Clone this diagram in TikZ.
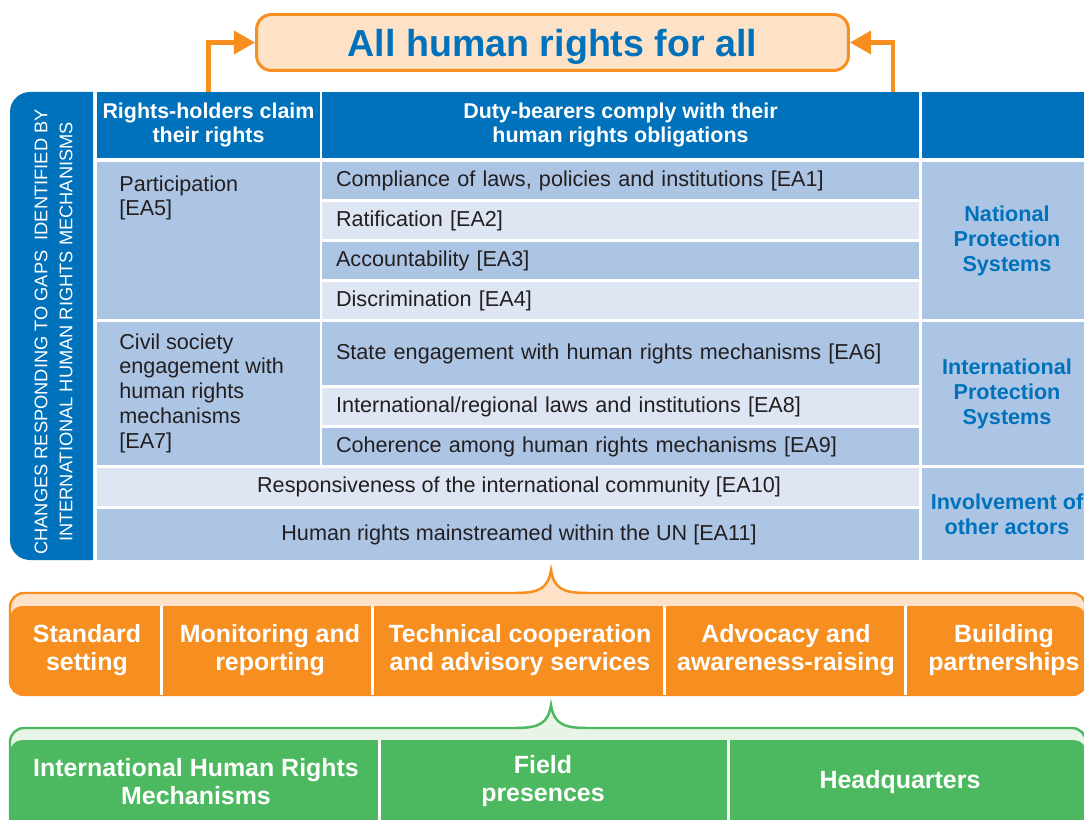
\documentclass[tikz,border=0pt]{standalone}
\usepackage{fontspec}
\setmainfont{Liberation Sans}
\usepackage{tikz}
\usetikzlibrary{arrows.meta}
\definecolor{hrblue}{RGB}{0,114,188}
\definecolor{cellmid}{RGB}{173,197,228}
\definecolor{celllight}{RGB}{222,230,243}
\definecolor{hrorange}{RGB}{246,142,32}
\definecolor{orangelight}{RGB}{253,226,200}
\definecolor{hrgreen}{RGB}{76,185,96}
\definecolor{greenlight}{RGB}{232,244,232}
\definecolor{bodytext}{RGB}{35,31,32}

\begin{document}
\begin{tikzpicture}[x=0.02cm, y=-0.02cm,
    title/.style={rectangle, rounded corners=8.5pt, draw=hrorange, line width=1.7pt, fill=orangelight, text=hrblue, font=\bfseries\fontsize{21.4}{24}\selectfont, minimum width=11.84cm, minimum height=1.12cm, inner sep=0pt, text depth=0pt},
    uparrow/.style={draw=hrorange, line width=2.3pt, -{Triangle[length=12pt, width=13pt]}},
    gapstext/.style={rotate=90, align=center, text=white, inner sep=0pt, font=\fontsize{10.4}{14.2}\selectfont},
    head/.style={rectangle, fill=hrblue, text=white, align=center, inner sep=0pt, minimum height=1.32cm, font=\bfseries\fontsize{12.2}{13.3}\selectfont},
    holder/.style={rectangle, fill=cellmid, minimum width=4.46cm, inner sep=0pt},
    holdertext/.style={anchor=north west, align=left, inner sep=0pt, text=bodytext, font=\fontsize{12.3}{14.2}\selectfont},
    duty/.style={rectangle, inner xsep=0.28cm, inner ysep=0pt, text width=11.38cm, align=left, text=bodytext, font=\fontsize{12.3}{14.2}\selectfont},
    shared/.style={rectangle, minimum width=16.44cm, inner sep=0pt, align=center, text=bodytext, font=\fontsize{12.3}{14.2}\selectfont},
    side/.style={rectangle, fill=cellmid, minimum width=3.4cm, inner sep=0pt, align=center, text=hrblue, font=\bfseries\fontsize{12.3}{14.2}\selectfont},
    act/.style={align=center, inner sep=0pt, text=white, font=\bfseries\fontsize{14.2}{16}\selectfont},
    unit/.style={align=center, inner sep=0pt, text=white, font=\bfseries\fontsize{14.2}{16}\selectfont},
    sep/.style={white, line width=1.7pt}]

    \useasboundingbox (0,0) rectangle (1084,820);
    \clip (0,0) rectangle (1084,820);

    % goal
    \node[title] (goal) at (552.5,42.5) {All human rights for all};

    % left band
    \fill[hrblue] (93,92) -- (30,92) arc[start angle=270, end angle=180, radius=20] -- (10,540) arc[start angle=180, end angle=90, radius=20] -- (93,560) -- cycle;
    \node[gapstext] (gaps) at (53.5,332) {CHANGES RESPONDING TO GAPS~~IDENTIFIED BY\\INTERNATIONAL HUMAN RIGHTS MECHANISMS};

    % header row
    \node[head, minimum width=4.46cm] (rh) at (208.5,125) {Rights-holders claim\\their rights};
    \node[head, minimum width=11.94cm] (db) at (620.5,125) {Duty-bearers comply with their\\human rights obligations};
    \node[head, minimum width=3.4cm] (hx) at (1007,125) {};

    \draw[uparrow] (rh.north) |- (goal.west);
    \coordinate (dbtop) at (893,92);
    \draw[uparrow] (dbtop) |- (goal.east);

    % rights-holders
    \node[holder, minimum height=3.14cm] (part) at (208.5,240.5) {};
    \node[holdertext] (parttext) at (119,175) {Participation\\{}[EA5]};
    \node[holder, minimum height=2.86cm] (civ) at (208.5,393.5) {};
    \node[holdertext] (civtext) at (119,333) {Civil society\\engagement with\\human rights\\mechanisms\\{}[EA7]};

    % duty-bearers
    \foreach \n/\y/\h/\c/\t in {1/180.5/0.74/cellmid/{Compliance of laws, policies and institutions [EA1]},
                               2/220.5/0.74/celllight/{Ratification [EA2]},
                               3/260.5/0.74/cellmid/{Accountability [EA3]},
                               4/300.5/0.74/celllight/{Discrimination [EA4]},
                               6/353.5/1.26/cellmid/{State engagement with human rights mechanisms [EA6]},
                               8/406.5/0.74/celllight/{International/regional laws and institutions [EA8]},
                               9/446.5/0.74/cellmid/{Coherence among human rights mechanisms [EA9]}} {
        \node[duty, fill=\c, minimum height=\h cm] (ea\n) at (620.5,\y) {\t};
    }
    \node[shared, fill=celllight, minimum height=0.76cm] (ea10) at (508,487) {\hspace*{0.44cm}Responsiveness of the international community [EA10]};
    \node[shared, fill=cellmid, minimum height=1.02cm] (ea11) at (508,534.5) {\hspace*{0.44cm}Human rights mainstreamed within the UN [EA11]};

    % systems
    \node[side, minimum height=3.14cm] (nps) at (1007,240.5) {National\\Protection\\Systems};
    \node[side, minimum height=2.86cm] (ips) at (1007,393.5) {International\\Protection\\Systems};
    \node[side, minimum height=1.84cm] (ioa) at (1007,514) {Involvement of\\other actors};

    % activities
    \filldraw[fill=orangelight, draw=hrorange, line width=1.4pt, rounded corners=8pt] (10,593) rectangle (1086,695);
    \fill[hrorange, rounded corners=7pt] (10,606) rectangle (1086,695);
    \fill[orangelight] (515,593) .. controls (540,593) and (548,588) .. (551,570) .. controls (554,588) and (562,593) .. (587,593) -- (587,597) -- (515,597) -- cycle;
    \draw[hrorange, line width=1.4pt] (515,593) .. controls (540,593) and (548,588) .. (551,570) .. controls (554,588) and (562,593) .. (587,593);
    \foreach \x in {161.5,372.5,664,905.5} {
        \draw[sep] (\x,606) -- (\x,695);
    }
    \node[act] (std) at (87,650) {Standard\\setting};
    \node[act] (mon) at (270,650) {Monitoring and\\reporting};
    \node[act] (tech) at (520,650) {Technical cooperation\\and advisory services};
    \node[act] (adv) at (786,650) {Advocacy and\\awareness-raising};
    \node[act] (bld) at (1004,650) {Building\\partnerships};

    % offices
    \filldraw[fill=greenlight, draw=hrgreen, line width=1.4pt, rounded corners=8pt] (10,728) rectangle (1086,840);
    \fill[hrgreen, rounded corners=7pt] (10,740) rectangle (1086,840);
    \fill[greenlight] (515,728) .. controls (540,728) and (548,723) .. (551,705) .. controls (554,723) and (562,728) .. (587,728) -- (587,732) -- (515,732) -- cycle;
    \draw[hrgreen, line width=1.4pt] (515,728) .. controls (540,728) and (548,723) .. (551,705) .. controls (554,723) and (562,728) .. (587,728);
    \foreach \x in {379,728} {
        \draw[sep] (\x,740) -- (\x,840);
    }
    \node[unit] (ihrm) at (196,782) {International Human Rights\\Mechanisms};
    \node[unit] (field) at (543,781) {Field\\presences};
    \node[unit] (hq) at (900,782) {Headquarters};
\end{tikzpicture}
\end{document}
